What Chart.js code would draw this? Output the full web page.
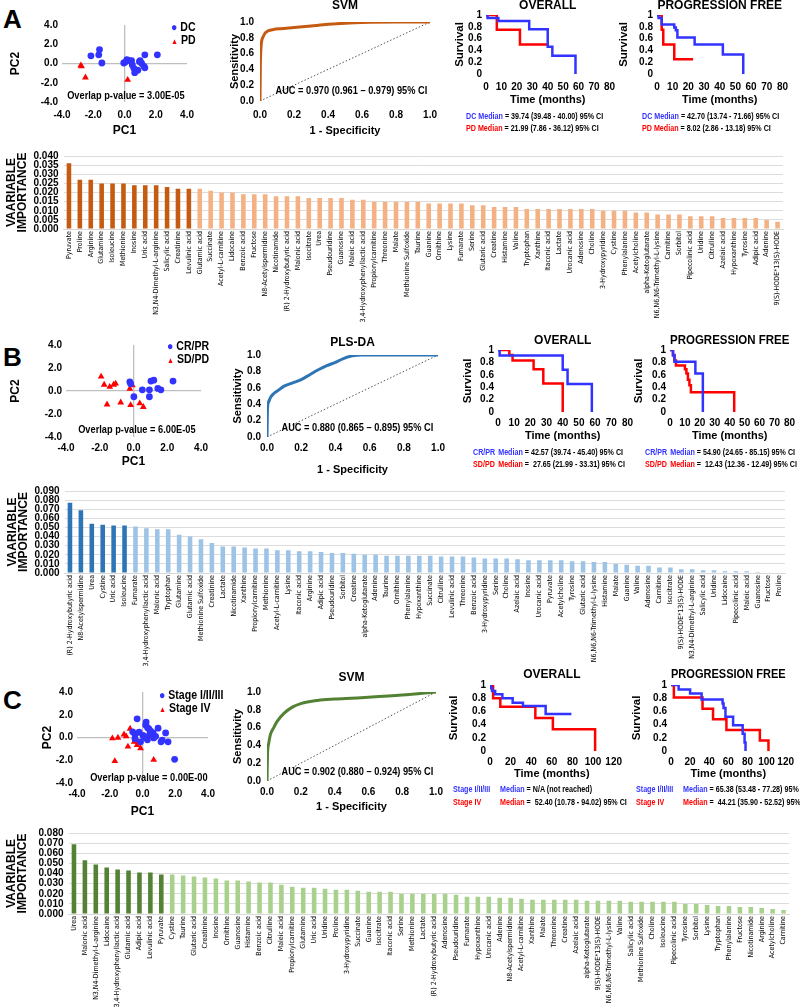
<!DOCTYPE html>
<html>
<head>
<meta charset="utf-8">
<script src="https://cdn.jsdelivr.net/npm/chart.js@4.4.0/dist/chart.umd.min.js"></script>
<style>
  body { margin: 0; background: #fff; }
  #page { position: relative; width: 800px; height: 1008px; overflow: hidden; }
  canvas { position: absolute; }
  .lab { position: absolute; white-space: pre; line-height: 1; font-weight: bold; color: #000; }
  .g { display: inline-block; }
</style>
</head>
<body>
<div id="page"></div>
<script>
// ---------------- panel A data ----------------
var aDcX = [-2.15, -1.6, -1.65, -1.45, -0.05, 0.05, 0.15, 0.3, 0.45, 0.5, 0.6, 0.65, 0.85, 0.95, 1.0, 1.1, 1.25, 1.3, 1.3, 2.1];
var aDcY = [0.8, 1.45, 0.9, 0.05, 0.05, 0.15, 0.4, 0.3, 0.3, -0.15, -0.5, -0.95, -0.7, 0.2, 0.3, 0.0, -0.3, -0.45, 0.9, 0.9];
var aPdX = [-2.8, -2.75, -2.5, 0.2];
var aPdY = [-0.2, -0.3, -1.45, -1.7];

var aRocFpr = [0, 0.002, 0.005, 0.01, 0.02, 0.03, 0.05, 0.08, 0.12, 0.2, 0.3, 0.4, 0.5, 0.6, 0.8, 1];
var aRocTpr = [0, 0.45, 0.65, 0.76, 0.82, 0.86, 0.89, 0.905, 0.915, 0.93, 0.95, 0.97, 0.985, 0.995, 1, 1];

var aOsDcT = [0, 1, 8, 28, 40, 43, 58];
var aOsDcS = [1, 0.95, 0.9, 0.76, 0.46, 0.31, 0];
var aOsPdT = [0, 7, 22, 40];
var aOsPdS = [1, 0.75, 0.5, 0.5];
var aPfDcT = [0, 1, 3, 11, 12, 13, 24, 42, 55];
var aPfDcS = [1, 0.95, 0.84, 0.79, 0.74, 0.62, 0.5, 0.33, 0];
var aPfPdT = [0, 3, 4, 11, 23];
var aPfPdS = [1, 0.75, 0.5, 0.25, 0.25];

var aLabels = ['Pyruvate', 'Proline', 'Arginine', 'Glutamine', 'Isoleucine', 'Methionine', 'Inosine', 'Uric acid',
  'N3,N4-Dimethyl-L-arginine', 'Salicylic acid', 'Creatinine', 'Levulinic acid', 'Glutamic acid', 'Succinate',
  'Acetyl-L-carnitine', 'Lidocaine', 'Benzoic acid', 'Fructose', 'N8-Acetylspermidine', 'Nicotinamide',
  '(R) 2-Hydroxybutyric acid', 'Malonic acid', 'Isocitrate', 'Urea', 'Pseudouridine', 'Guanosine', 'Maleic acid',
  '3,4-Hydroxyphenyllactic acid', 'Propionylcarnitine', 'Threonine', 'Malate', 'Methionine Sulfoxide', 'Taurine',
  'Guanine', 'Ornithine', 'Lysine', 'Fumarate', 'Serine', 'Glutaric acid', 'Creatine', 'Histamine', 'Valine',
  'Tryptophan', 'Xanthine', 'Itaconic acid', 'Lactate', 'Urocanic acid', 'Adenosine', 'Choline', '3-Hydroxypyridine',
  'Cystine', 'Phenylalanine', 'Acetylcholine', 'alpha-Ketoglutarate', 'N6,N6,N6-Trimethyl-L-lysine', 'Carnitine',
  'Sorbitol', 'Pipecolinic acid', 'Uridine', 'Citrulline', 'Azelaic acid', 'Hypoxanthine', 'Tyrosine', 'Adipic acid',
  'Adenine', '9(S)-HODE*13(S)-HODE'];
var aValues = [0.036, 0.027, 0.027, 0.025, 0.025, 0.025, 0.024, 0.024, 0.024, 0.023, 0.022, 0.022,
  0.022, 0.021, 0.020, 0.020, 0.019, 0.019, 0.019, 0.018, 0.018, 0.018, 0.017, 0.017, 0.017, 0.017,
  0.016, 0.016, 0.015, 0.015, 0.015, 0.015, 0.015, 0.014, 0.014, 0.014, 0.014, 0.013, 0.013, 0.012,
  0.012, 0.012, 0.011, 0.011, 0.011, 0.011, 0.011, 0.011, 0.011, 0.010, 0.010, 0.010, 0.009, 0.009,
  0.008, 0.008, 0.008, 0.007, 0.007, 0.007, 0.006, 0.006, 0.006, 0.006, 0.005, 0.004];
var aDark = 12;

// ---------------- panel B data ----------------
var bCrX = [-0.22, -0.17, 0.02, 0.52, 0.94, 1.03, 1.2, 0.94, 1.44, 1.62, 2.34];
var bCrY = [0.8, 0.64, -0.5, 0.1, 0.1, 0.86, 0.94, -0.5, 0.22, 0.1, 0.86];
var bSdX = [-1.92, -1.74, -1.41, -1.18, -1.06, -1.57, -0.76, -0.22, -0.07, -0.17, 0.37, 0.58];
var bSdY = [1.25, 0.55, 0.36, 0.55, 0.64, -1.17, -1.0, 0.2, 0.5, -1.22, -1.08, -1.39];

var bRocFpr = [0, 0.003, 0.01, 0.02, 0.04, 0.06, 0.1, 0.15, 0.2, 0.25, 0.3, 0.35, 0.4, 0.45, 0.5, 0.55, 0.7, 1];
var bRocTpr = [0, 0.35, 0.43, 0.48, 0.53, 0.56, 0.62, 0.66, 0.7, 0.76, 0.82, 0.87, 0.91, 0.96, 0.99, 1, 1, 1];

var bOsCrT = [0, 1, 40, 43, 58];
var bOsCrS = [1, 0.91, 0.68, 0.45, 0];
var bOsSdT = [0, 7, 9, 22, 28, 40];
var bOsSdS = [1, 0.92, 0.83, 0.69, 0.46, 0];
var bPfCrT = [0, 2, 3, 17, 22];
var bPfCrS = [1, 0.91, 0.81, 0.62, 0];
var bPfSdT = [0, 2, 3, 4, 10, 11, 12, 13, 14, 43];
var bPfSdS = [1, 0.92, 0.83, 0.75, 0.69, 0.62, 0.52, 0.43, 0.32, 0];

var bLabels = ['(R) 2-Hydroxybutyric acid', 'N8-Acetylspermidine', 'Urea', 'Cystine', 'Uric acid', 'Isoleucine',
  'Fumarate', '3,4-Hydroxyphenyllactic acid', 'Malonic acid', 'Tryptophan', 'Glutamine', 'Glutamic acid',
  'Methionine Sulfoxide', 'Creatinine', 'Lactate', 'Nicotinamide', 'Xanthine', 'Propionylcarnitine', 'Methionine',
  'Acetyl-L-carnitine', 'Lysine', 'Itaconic acid', 'Arginine', 'Adipic acid', 'Pseudouridine', 'Sorbitol', 'Creatine',
  'alpha-Ketoglutarate', 'Adenine', 'Taurine', 'Ornithine', 'Phenylalanine', 'Hypoxanthine', 'Succinate', 'Citrulline',
  'Levulinic acid', 'Threonine', 'Benzoic acid', '3-Hydroxypyridine', 'Serine', 'Choline', 'Azelaic acid', 'Inosine',
  'Urocanic acid', 'Pyruvate', 'Acetylcholine', 'Tyrosine', 'Glutaric acid', 'N6,N6,N6-Trimethyl-L-lysine',
  'Histamine', 'Malate', 'Guanine', 'Valine', 'Adenosine', 'Carnitine', 'Isocitrate', '9(S)-HODE*13(S)-HODE',
  'N3,N4-Dimethyl-L-arginine', 'Salicylic acid', 'Uridine', 'Lidocaine', 'Pipecolinic acid', 'Maleic acid',
  'Guanosine', 'Fructose', 'Proline'];
var bValues = [0.077, 0.069, 0.054, 0.053, 0.052, 0.052,
  0.051, 0.049, 0.048, 0.048, 0.042, 0.040, 0.037, 0.033, 0.029, 0.029,
  0.028, 0.027, 0.027, 0.025, 0.025, 0.024, 0.024, 0.023, 0.022, 0.022,
  0.021, 0.020, 0.020, 0.019, 0.019, 0.019, 0.019, 0.019, 0.018, 0.018,
  0.018, 0.017, 0.016, 0.016, 0.016, 0.015, 0.014, 0.014, 0.014, 0.014,
  0.013, 0.013, 0.012, 0.012, 0.010, 0.009, 0.008, 0.008, 0.006, 0.006,
  0.004, 0.004, 0.003, 0.003, 0.002, 0.002, 0.002, 0.001, 0.000, 0.000];
var bDark = 6;

// ---------------- panel C data ----------------
var cStX = [-0.33, 0.22, 0.19, 0.31, 0.4, 0.95, -0.46, -0.21, 0.03, 0.43, 0.65, 0.68, 1.2, 1.41, 1.56, 1.13, 0.12, -0.46, -0.12, 1.96, 0.49, 0.8, 0.3, -0.6];
var cStY = [1.64, 1.36, 1.1, 0.86, 0.74, 0.82, 0.27, 0.46, 0.18, 0.24, 0.4, -0.04, -0.24, 0.4, -0.38, -0.38, 0.04, -0.1, -0.38, -1.92, 0.55, 0.1, -0.2, 0.5];
var cIvX = [-1.84, -1.5, -1.13, -1.0, -0.76, -0.51, -0.4, -0.33, -0.12, -0.89, -1.69, 0.68, -0.27];
var cIvY = [-0.07, -0.02, 0.27, 0.1, 0.77, -0.38, -0.18, -0.66, -0.94, -0.8, -2.08, -1.97, -0.38];

var cRocFpr = [0, 0.003, 0.01, 0.02, 0.04, 0.06, 0.1, 0.15, 0.2, 0.3, 0.4, 0.5, 0.6, 0.8, 1];
var cRocTpr = [0, 0.3, 0.42, 0.52, 0.6, 0.67, 0.76, 0.83, 0.87, 0.905, 0.92, 0.93, 0.94, 0.965, 1];

var cOsStT = [0, 1, 2, 5, 12, 22, 32, 54, 79];
var cOsStS = [1, 0.95, 0.91, 0.86, 0.8, 0.73, 0.68, 0.56, 0.56];
var cOsIvT = [0, 3, 10, 44, 61, 102];
var cOsIvS = [1, 0.8, 0.67, 0.5, 0.33, 0];
var cPfStT = [0, 8, 20, 32, 54, 55, 57, 65, 75, 77, 78];
var cPfStS = [1, 0.93, 0.87, 0.78, 0.72, 0.65, 0.52, 0.39, 0.26, 0.13, 0];
var cPfIvT = [0, 3, 33, 44, 58, 93, 102];
var cPfIvS = [1, 0.81, 0.64, 0.48, 0.32, 0.16, 0];

var cLabels = ['Urea', 'Malonic acid', 'N3,N4-Dimethyl-L-arginine', 'Lidocaine', '3,4-Hydroxyphenyllactic acid',
  'Glutamic acid', 'Adipic acid', 'Levulinic acid', 'Pyruvate', 'Cystine', 'Taurine', 'Glutaric acid', 'Creatinine',
  'Inosine', 'Ornithine', 'Guanosine', 'Histamine', 'Benzoic acid', 'Citrulline', 'Maleic acid', 'Propionylcarnitine',
  'Glutamine', 'Uric acid', 'Uridine', 'Proline', '3-Hydroxypyridine', 'Succinate', 'Guanine', 'Isocitrate',
  'Itaconic acid', 'Serine', 'Methionine', 'Lactate', '(R) 2-Hydroxybutyric acid', 'Adenosine', 'Pseudouridine',
  'Fumarate', 'Hypoxanthine', 'Urocanic acid', 'Adenine', 'N8-Acetylspermidine', 'Acetyl-L-carnitine', 'Xanthine',
  'Malate', 'Threonine', 'Creatine', 'Azelaic acid', 'alpha-Ketoglutarate', '9(S)-HODE*13(S)-HODE',
  'N6,N6,N6-Trimethyl-L-lysine', 'Valine', 'Salicylic acid', 'Methionine Sulfoxide', 'Choline', 'Isoleucine',
  'Pipecolinic acid', 'Tyrosine', 'Sorbitol', 'Lysine', 'Tryptophan', 'Phenylalanine', 'Fructose', 'Nicotinamide',
  'Arginine', 'Acetylcholine', 'Carnitine'];
var cValues = [0.069, 0.053, 0.049, 0.046, 0.044, 0.043, 0.041, 0.041, 0.039,
  0.039, 0.038, 0.037, 0.036, 0.035, 0.033, 0.033, 0.032, 0.031, 0.031,
  0.029, 0.027, 0.026, 0.026, 0.025, 0.024, 0.024, 0.023, 0.022, 0.022,
  0.022, 0.020, 0.020, 0.020, 0.020, 0.020, 0.019, 0.017, 0.017, 0.017,
  0.016, 0.016, 0.015, 0.014, 0.014, 0.014, 0.014, 0.014, 0.013, 0.013,
  0.013, 0.013, 0.012, 0.012, 0.012, 0.012, 0.012, 0.010, 0.010, 0.009,
  0.008, 0.008, 0.007, 0.007, 0.006, 0.005, 0.004];
var cDark = 9;

// ---------------- drawing ----------------
var BLUE = '#3333ff', RED = '#ff0000';
var ARIAL = "'Liberation Sans',Arial,sans-serif";
var SMALL = "'DejaVu Sans Condensed','Liberation Sans',sans-serif";
Chart.defaults.font.family = ARIAL;
Chart.defaults.font.weight = 'bold';
Chart.defaults.color = '#000';

var page = document.getElementById('page');

function place(g) {
  var c = document.createElement('canvas');
  var w = Math.round(g.R - g.L + g.ax + g.ar), h = Math.round(g.B - g.T + g.at + g.ab);
  c.width = w; c.height = h;
  c.style.width = w + 'px'; c.style.height = h + 'px';
  c.style.left = (g.L - g.ax) + 'px';
  c.style.top = (g.T - g.at) + 'px';
  page.appendChild(c);
  return c;
}
function pts(xs, ys) {
  return xs.map(function (x, i) { return { x: x, y: ys[i] }; });
}
function fixW(w) { return function (s) { s.width = w; }; }
function fixH(h) { return function (s) { s.height = h; }; }

function baseOpts(g, title) {
  var o = {
    responsive: false, animation: false, devicePixelRatio: 1,
    layout: { padding: { top: title ? 0 : g.at, right: g.ar, left: 0, bottom: 0 } },
    plugins: { legend: { display: false }, tooltip: { enabled: false }, title: { display: false } }
  };
  if (title) {
    o.plugins.title = {
      display: true, text: title, fullSize: false, color: '#000',
      font: { family: ARIAL, size: 12, weight: 'bold', lineHeight: 1 },
      padding: { top: 0, bottom: Math.max(0, g.at - 12) }
    };
  }
  return o;
}
function axTitle(text, size) {
  return { display: true, text: text, color: '#000', padding: 0,
    font: { family: ARIAL, size: size, weight: 'bold', lineHeight: 1.2 } };
}
function numTicks(step, pad, fmt) {
  return { stepSize: step, autoSkip: false, maxRotation: 0, minRotation: 0, padding: pad,
    font: { size: 10 }, callback: fmt };
}
var noGrid = { display: false, drawTicks: false };

function scatterChart(g, x1, y1, x2, y2) {
  var o = baseOpts(g);
  var zero = function (ctx) { return ctx.tick && ctx.tick.value === 0 ? '#bfbfbf' : 'rgba(0,0,0,0)'; };
  var fmt = function (v) { return v.toFixed(1); };
  o.scales = {
    x: { type: 'linear', min: -4, max: 4, ticks: numTicks(2, g.tp, fmt),
      grid: { color: zero, lineWidth: 1.3, drawTicks: false }, border: { display: false },
      title: axTitle('PC1', 12), afterFit: fixH(g.ab) },
    y: { type: 'linear', min: -4, max: 4, ticks: numTicks(2, 4, fmt),
      grid: { color: zero, lineWidth: 1.3, drawTicks: false }, border: { display: false },
      title: axTitle('PC2', 12), afterFit: fixW(g.ax) }
  };
  new Chart(place(g), {
    type: 'scatter',
    data: { datasets: [
      { data: pts(x1, y1), pointStyle: 'circle', pointRadius: 3.4, backgroundColor: BLUE, borderColor: BLUE, borderWidth: 0 },
      { data: pts(x2, y2), pointStyle: 'triangle', pointRadius: 3.9, backgroundColor: RED, borderColor: RED, borderWidth: 0 }
    ] },
    options: o
  });
}

function rocChart(g, title, fpr, tpr, color) {
  var o = baseOpts(g, title);
  var fmt = function (v) { return v.toFixed(1); };
  o.scales = {
    x: { type: 'linear', min: 0, max: 1, ticks: numTicks(0.2, g.tp, fmt),
      grid: noGrid, border: { display: false },
      title: axTitle('1 - Specificity', 11), afterFit: fixH(g.ab) },
    y: { type: 'linear', min: 0, max: 1, ticks: numTicks(0.2, 6, fmt),
      grid: noGrid, border: { display: false },
      title: axTitle('Sensitivity', 11), afterFit: fixW(g.ax) }
  };
  new Chart(place(g), {
    type: 'line',
    data: { datasets: [
      { data: pts(fpr, tpr), borderColor: color, borderWidth: 3, pointRadius: 0, cubicInterpolationMode: 'monotone' },
      { data: [{ x: 0, y: 0 }, { x: 1, y: 1 }], borderColor: '#555', borderWidth: 1, borderDash: [1.5, 2], pointRadius: 0 }
    ] },
    options: o
  });
}

function survChart(g, title, xmax, xstep, t1, s1, t2, s2) {
  var o = baseOpts(g, title);
  o.scales = {
    x: { type: 'linear', min: 0, max: xmax, ticks: numTicks(xstep, g.tp),
      grid: noGrid, border: { display: false },
      title: axTitle('Time (months)', 11), afterFit: fixH(g.ab) },
    y: { type: 'linear', min: 0, max: 1,
      ticks: numTicks(0.2, 4, function (v) { return (v === 0 || v === 1) ? String(v) : v.toFixed(1); }),
      grid: noGrid, border: { display: false },
      title: axTitle('Survival', 11.5), afterFit: fixW(g.ax) }
  };
  new Chart(place(g), {
    type: 'line',
    data: { datasets: [
      { data: pts(t1, s1), stepped: true, borderColor: BLUE, borderWidth: 2.5, pointRadius: 0 },
      { data: pts(t2, s2), stepped: true, borderColor: RED, borderWidth: 2.5, pointRadius: 0 }
    ] },
    options: o
  });
}

function barChart(g, labels, values, nDark, dark, light, ymax, ystep) {
  var o = baseOpts(g);
  o.scales = {
    x: { type: 'category',
      ticks: { autoSkip: false, maxRotation: 90, minRotation: 90, padding: 2,
        font: { family: SMALL, size: 7, weight: 'normal' } },
      grid: { display: false, drawTicks: false }, border: { color: '#d9d9d9' }, afterFit: fixH(g.ab) },
    y: { type: 'linear', min: 0, max: ymax,
      ticks: { stepSize: ystep, autoSkip: false, padding: 5, font: { size: 10 },
        callback: function (v) { return v.toFixed(3); } },
      grid: { color: '#dcdcdc', drawTicks: false }, border: { display: false },
      title: { display: true, text: ['VAARIABLE', 'IMPORTANCE'], color: '#000', padding: 0,
        font: { family: ARIAL, size: 12, weight: 'bold', lineHeight: 0.95 } },
      afterFit: fixW(g.ax) }
  };
  new Chart(place(g), {
    type: 'bar',
    data: { labels: labels, datasets: [{
      data: values,
      backgroundColor: values.map(function (v, i) { return i < nDark ? dark : light; }),
      barPercentage: 0.42, categoryPercentage: 1
    }] },
    options: o
  });
}

function label(x, y, html, css, center, sx) {
  var d = document.createElement('div');
  d.className = 'lab';
  d.innerHTML = html;
  d.style.cssText = 'font-family:' + ARIAL + ';' + css;
  page.appendChild(d);
  var w = d.offsetWidth, h = d.offsetHeight;
  d.style.left = (center ? x - w / 2 : x) + 'px';
  d.style.top = (y - h / 2) + 'px';
  if (sx) {
    d.style.transformOrigin = center ? 'center' : 'left';
    d.style.transform = 'scaleX(' + sx + ')';
  }
}
function median(x, y, name, nameW, rest, col) {
  var st = nameW ? 'width:' + nameW + 'px;' : '';
  label(x, y, '<span class="g" style="' + st + 'color:' + col + '">' + name + '</span>' +
    '<span style="color:' + col + '">Median</span>' + rest, 'font-size:8.5px;', false, 0.84);
}
function legend(x, y1, y2, n1, n2) {
  var css = 'font-size:12px;';
  label(x, y1, '<span style="color:' + BLUE + ';font-size:12px">\u25CF</span> ' + n1, css, false, 0.88);
  label(x, y2, '<span style="color:' + RED + ';font-size:8px">\u25B2</span> ' + n2, css, false, 0.88);
}
var bigCss = 'font-size:11px;';
var letterCss = 'font-size:26px;';

// ---- panel A ----
label(3, 19, 'A', letterCss);
scatterChart({ L: 62, T: 23, R: 193, B: 102, ax: 54, ab: 36, at: 8, ar: 8, tp: 7 }, aDcX, aDcY, aPdX, aPdY);
legend(171, 27, 40, 'DC', 'PD');
label(126, 95, 'Overlap p-value = 3.00E-05', bigCss, true, 0.84);
rocChart({ L: 260, T: 22, R: 433, B: 101, ax: 32, ab: 37, at: 22, ar: 12, tp: 8 }, 'SVM', aRocFpr, aRocTpr, '#c55a11');
label(351, 90, 'AUC = 0.970 (0.961 \u2013 0.979) 95% CI', bigCss, true, 0.84);
survChart({ L: 486, T: 15, R: 612, B: 74, ax: 33, ab: 33, at: 15, ar: 10, tp: 7 }, 'OVERALL', 80, 10, aOsDcT, aOsDcS, aOsPdT, aOsPdS);
survChart({ L: 657, T: 15, R: 783, B: 74, ax: 40, ab: 33, at: 15, ar: 12, tp: 7 }, 'PROGRESSION FREE', 80, 10, aPfDcT, aPfDcS, aPfPdT, aPfPdS);
median(466, 116, 'DC ', 0, ' = 39.74 (39.48 - 40.00) 95% CI', BLUE);
median(466, 128, 'PD ', 0, ' = 21.99 (7.86 - 36.12) 95% CI', RED);
median(642, 116, 'DC ', 0, ' = 42.70 (13.74 - 71.66) 95% CI', BLUE);
median(642, 128, 'PD ', 0, ' = 8.02 (2.86 - 13.18) 95% CI', RED);
barChart({ L: 63.5, T: 151, R: 782.5, B: 229, ax: 57.5, ab: 95, at: 6, ar: 12 }, aLabels, aValues, aDark, '#c55a11', '#f4b183', 0.04, 0.005);

// ---- panel B ----
label(3, 357, 'B', letterCss);
scatterChart({ L: 66, T: 341, R: 205, B: 437, ax: 58, ab: 32, at: 6, ar: 8, tp: 5 }, bCrX, bCrY, bSdX, bSdY);
legend(167, 346, 359, 'CR/PR', 'SD/PD');
label(137, 429, 'Overlap p-value = 6.00E-05', bigCss, true, 0.84);
rocChart({ L: 267, T: 355, R: 440, B: 437, ax: 36, ab: 40, at: 18, ar: 10, tp: 5 }, 'PLS-DA', bRocFpr, bRocTpr, '#2e75b6');
label(357, 427, 'AUC = 0.880 (0.865 \u2013 0.895) 95% CI', bigCss, true, 0.84);
survChart({ L: 498, T: 350, R: 628, B: 412, ax: 37, ab: 31, at: 15, ar: 10, tp: 5 }, 'OVERALL', 80, 10, bOsCrT, bOsCrS, bOsSdT, bOsSdS);
survChart({ L: 670, T: 350, R: 792, B: 412, ax: 38, ab: 31, at: 15, ar: 8, tp: 5 }, 'PROGRESSION FREE', 80, 10, bPfCrT, bPfCrS, bPfSdT, bPfSdS);
median(473, 452, 'CR/PR ', 30, ' = 42.57 (39.74 - 45.40) 95% CI', BLUE);
median(473, 464, 'SD/PD ', 30, ' =  27.65 (21.99 - 33.31) 95% CI', RED);
median(645, 452, 'CR/PR ', 30, ' = 54.90 (24.65 - 85.15) 95% CI', BLUE);
median(645, 464, 'SD/PD ', 30, ' =  12.43 (12.36 - 12.49) 95% CI', RED);
barChart({ L: 64.5, T: 486, R: 784.5, B: 573, ax: 57.5, ab: 95, at: 6, ar: 12 }, bLabels, bValues, bDark, '#2e75b6', '#9dc3e6', 0.09, 0.01);

// ---- panel C ----
label(3, 700, 'C', letterCss);
scatterChart({ L: 77, T: 688, R: 212, B: 783, ax: 37, ab: 36, at: 6, ar: 8, tp: 5 }, cStX, cStY, cIvX, cIvY);
legend(159, 695, 708, 'Stage I/II/III', 'Stage IV');
label(149, 777, 'Overlap p-value = 0.00E-00', bigCss, true, 0.84);
rocChart({ L: 267, T: 692, R: 436, B: 781, ax: 36, ab: 33, at: 20, ar: 12, tp: 5 }, 'SVM', cRocFpr, cRocTpr, '#548235');
label(357, 771, 'AUC = 0.902 (0.880 \u2013 0.924) 95% CI', bigCss, true, 0.84);
survChart({ L: 490, T: 685, R: 617, B: 751, ax: 43, ab: 30, at: 16, ar: 10, tp: 5 }, 'OVERALL', 120, 20, cOsStT, cOsStS, cOsIvT, cOsIvS);
survChart({ L: 671, T: 685, R: 790, B: 751, ax: 41, ab: 30, at: 16, ar: 9, tp: 5 }, 'PROGRESSION FREE', 120, 20, cPfStT, cPfStS, cPfIvT, cPfIvS);
median(453, 789, 'Stage I/II/III ', 56, ' = N/A (not reached)', BLUE);
median(453, 802, 'Stage IV', 56, ' =  52.40 (10.78 - 94.02) 95% CI', RED);
median(636, 789, 'Stage I/II/III ', 56, ' = 65.38 (53.48 - 77.28) 95% CI', BLUE);
median(636, 802, 'Stage IV', 56, ' =  44.21 (35.90 - 52.52) 95% CI', RED);
barChart({ L: 68.5, T: 828, R: 788.5, B: 914, ax: 62.5, ab: 94, at: 6, ar: 8 }, cLabels, cValues, cDark, '#548235', '#a9d18e', 0.08, 0.01);
</script>
</body>
</html>
